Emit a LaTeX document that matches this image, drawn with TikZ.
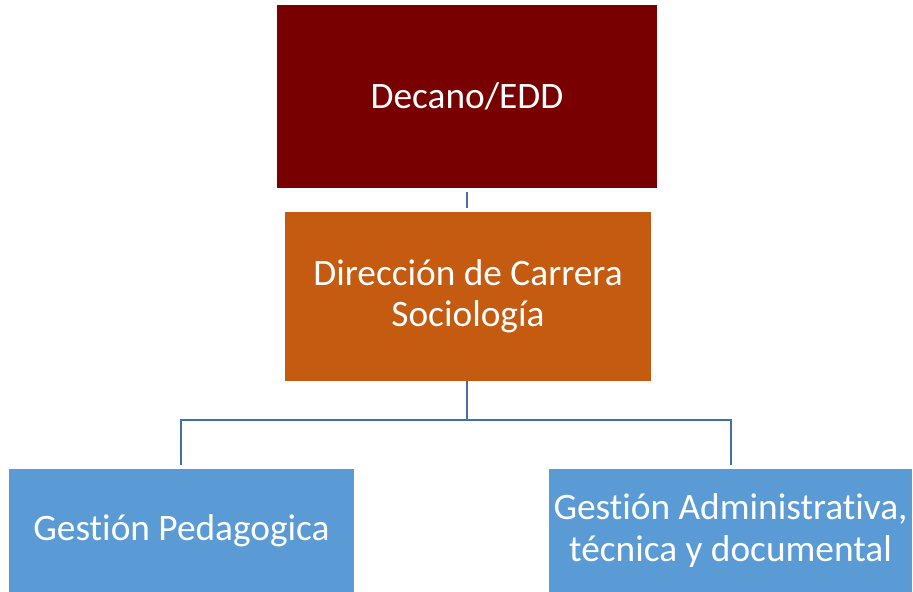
\documentclass[tikz,border=0pt]{standalone}
\usepackage{fontspec}
\setmainfont[Ligatures=NoCommon]{Carlito}
\usepackage{tikz}
\usetikzlibrary{positioning}

\definecolor{decanoRed}{HTML}{780000}
\definecolor{carreraOrange}{HTML}{C55A11}
\definecolor{gestionBlue}{HTML}{5B9BD5}
\definecolor{linkBlue}{HTML}{41719C}

\begin{document}
\begin{tikzpicture}[
  x=0.75pt, y=-0.75pt,
  orgbox/.style={rectangle, inner sep=0pt, text=white, align=center,
    font=\fontsize{28}{31}\selectfont},
  link/.style={draw=linkBlue, line width=2pt},
]

\useasboundingbox (0,0) rectangle (913,592);

\node[orgbox, fill=decanoRed, minimum width=285pt, minimum height=137.25pt] (decano) at (467,96.5) {Decano/EDD};
\node[orgbox, fill=carreraOrange, minimum width=274.5pt, minimum height=126.75pt] (carrera) at (468,296.5) {Dirección de Carrera\\Sociología};
\node[orgbox, fill=gestionBlue, minimum width=258.75pt, minimum height=92.25pt] (pedagogica) at (181.5,530.5) {Gestión Pedagogica};
\node[orgbox, fill=gestionBlue, minimum width=272.25pt, minimum height=92.25pt] (administrativa) at (730.5,530.5) {Gestión Administrativa,\\técnica y documental};

\coordinate (split) at (467,420);

\draw[link, shorten <=2.5pt, shorten >=2.5pt] (decano.south -| split) -- (carrera.north -| split);
\draw[link] (carrera.south -| split) -- (split);
\draw[link, shorten >=2.5pt] (split) -| ([xshift=-0.375pt]pedagogica.north);
\draw[link, shorten >=2.5pt] (split) -| ([xshift=0.375pt]administrativa.north);
\end{tikzpicture}
\end{document}
